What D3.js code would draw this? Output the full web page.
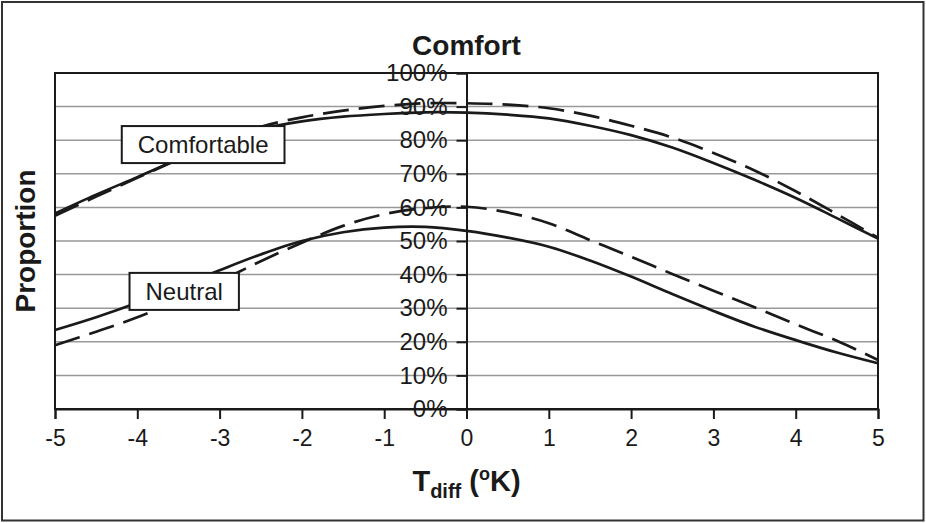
<!DOCTYPE html>
<html>
<head>
<meta charset="utf-8">
<script src="https://cdn.jsdelivr.net/npm/d3@7"></script>
<style>
  html, body { margin: 0; padding: 0; background: #fff; }
  svg { display: block; font-family: "Liberation Sans", Arial, sans-serif; }
</style>
</head>
<body>
<svg id="chart" width="926" height="523"></svg>
<script>
// Temperature difference (K) at which each proportion is given
const tdiff = [-5, -4.5, -4, -3.5, -3, -2.5, -2, -1.5, -1, -0.5, 0,
               0.5, 1, 1.5, 2, 2.5, 3, 3.5, 4, 4.5, 5];

// Proportion (%) judging the climate comfortable: model A (solid) and model B (dashed)
const comfortableSolid  = [58.2, 63.8, 69.0, 74.3, 79.0, 83.3, 85.6, 87.0, 87.8, 88.3, 88.2,
                           87.6, 86.5, 84.3, 81.5, 77.8, 73.2, 68.2, 62.8, 56.8, 50.7];
const comfortableDashed = [57.5, 63.2, 68.8, 74.3, 79.5, 84.0, 86.8, 88.8, 90.2, 91.0, 91.0,
                           90.6, 89.5, 87.3, 84.3, 80.8, 76.2, 71.0, 64.8, 58.0, 51.0];

// Proportion (%) judging the climate neutral
const neutralSolid  = [23.5, 27.3, 31.6, 36.4, 41.3, 46.0, 50.0, 52.6, 54.0, 54.2, 53.0,
                       51.0, 48.3, 44.2, 39.4, 34.2, 29.2, 24.5, 20.5, 16.8, 13.6];
const neutralDashed = [19.0, 23.0, 27.3, 32.5, 38.0, 44.0, 49.5, 54.5, 58.0, 59.8, 60.2,
                       58.5, 55.3, 50.3, 45.3, 40.2, 35.2, 30.3, 25.2, 20.3, 14.6];

// Axis ticks
const xTicks = [-5, -4, -3, -2, -1, 0, 1, 2, 3, 4, 5];
const xTickLabels = ["-5", "-4", "-3", "-2", "-1", "0", "1", "2", "3", "4", "5"];
const yTicks = [0, 10, 20, 30, 40, 50, 60, 70, 80, 90, 100];
const yTickLabels = ["0%", "10%", "20%", "30%", "40%", "50%", "60%", "70%", "80%", "90%", "100%"];

const series = [
  { values: comfortableSolid,  dashed: false },
  { values: comfortableDashed, dashed: true  },
  { values: neutralSolid,      dashed: false },
  { values: neutralDashed,     dashed: true  }
];

const curveLabels = [
  { text: "Comfortable", t: -3.20, v: 78.7 },
  { text: "Neutral",     t: -3.43, v: 35.0 }
];

const svg = d3.select("#chart");
const W = 926, H = 523;
const plot = { left: 55, right: 878, top: 73, bottom: 409 };
const ink = "#1a1a1a";
const font = "'Liberation Sans', Arial, sans-serif";

const x = d3.scaleLinear().domain([-5, 5]).range([plot.left, plot.right]);
const y = d3.scaleLinear().domain([0, 100]).range([plot.bottom, plot.top]);

// page background and outer frame
svg.append("rect").attr("width", W).attr("height", H).attr("fill", "#fff");
svg.append("rect")
  .attr("x", 2).attr("y", 2).attr("width", W - 4.5).attr("height", H - 4.5)
  .attr("fill", "none").attr("stroke", "#333").attr("stroke-width", 2);

// horizontal gridlines
svg.append("g").selectAll("line")
  .data(yTicks.filter(d => d > 0 && d < 100))
  .join("line")
  .attr("x1", plot.left).attr("x2", plot.right)
  .attr("y1", d => y(d)).attr("y2", d => y(d))
  .attr("stroke", "#999").attr("stroke-width", 1.5);

// plot frame
svg.append("rect")
  .attr("x", plot.left).attr("y", plot.top)
  .attr("width", plot.right - plot.left).attr("height", plot.bottom - plot.top)
  .attr("fill", "none").attr("stroke", ink).attr("stroke-width", 2);

// x axis along the bottom
const xAxis = svg.append("g")
  .attr("transform", `translate(0,${plot.bottom})`)
  .call(d3.axisBottom(x).tickValues(xTicks).tickSize(10).tickPadding(11)
        .tickFormat((d, i) => xTickLabels[i]));
xAxis.select(".domain").attr("stroke", ink).attr("stroke-width", 2);
xAxis.selectAll(".tick line").attr("stroke", ink).attr("stroke-width", 2);
xAxis.selectAll(".tick text")
  .attr("fill", ink).style("font-size", "23px").style("font-family", font);

// y axis through T = 0
const yAxis = svg.append("g")
  .attr("transform", `translate(${x(0)},0)`)
  .call(d3.axisLeft(y).tickValues(yTicks).tickSize(10).tickPadding(9)
        .tickFormat((d, i) => yTickLabels[i]));
yAxis.select(".domain").attr("stroke", ink).attr("stroke-width", 2);
yAxis.selectAll(".tick line").attr("stroke", ink).attr("stroke-width", 2);
yAxis.selectAll(".tick text")
  .attr("fill", ink).style("font-size", "24px").style("font-family", font);

// curves
const line = d3.line()
  .x((d, i) => x(tdiff[i]))
  .y(d => y(d))
  .curve(d3.curveCatmullRom.alpha(0.5));

svg.append("g").selectAll("path")
  .data(series)
  .join("path")
  .attr("d", d => line(d.values))
  .attr("fill", "none")
  .attr("stroke", ink)
  .attr("stroke-width", 2.7)
  .attr("stroke-dasharray", d => d.dashed ? "26,10" : null);

// boxed curve labels
const lab = svg.append("g").selectAll("g")
  .data(curveLabels)
  .join("g")
  .attr("transform", d => `translate(${x(d.t)},${y(d.v)})`);
lab.append("text")
  .attr("text-anchor", "middle").attr("dy", "0.36em")
  .attr("fill", ink).style("font-size", "24px")
  .text(d => d.text);
lab.each(function () {
  const g = d3.select(this);
  const b = g.select("text").node().getBBox();
  g.insert("rect", "text")
    .attr("x", b.x - 16).attr("y", -18.5)
    .attr("width", b.width + 32).attr("height", 37)
    .attr("fill", "#fff").attr("stroke", ink).attr("stroke-width", 2);
});

// title
svg.append("text")
  .attr("x", (plot.left + plot.right) / 2).attr("y", 55)
  .attr("text-anchor", "middle").attr("fill", ink)
  .style("font-size", "28px").style("font-weight", "bold")
  .text("Comfort");

// x axis title: T_diff (°K)
const xt = svg.append("text")
  .attr("x", (plot.left + plot.right) / 2).attr("y", 491)
  .attr("text-anchor", "middle").attr("fill", ink)
  .style("font-size", "29px").style("font-weight", "bold");
xt.append("tspan").text("T");
xt.append("tspan").attr("dy", 7).style("font-size", "20px").text("diff");
xt.append("tspan").attr("dy", -7).text(" (");
xt.append("tspan").attr("dy", -11).style("font-size", "18px").text("o");
xt.append("tspan").attr("dy", 11).text("K)");

// y axis title
svg.append("text")
  .attr("transform", `translate(35,${(plot.top + plot.bottom) / 2}) rotate(-90)`)
  .attr("text-anchor", "middle").attr("fill", ink)
  .style("font-size", "28px").style("font-weight", "bold")
  .text("Proportion");
</script>
</body>
</html>
